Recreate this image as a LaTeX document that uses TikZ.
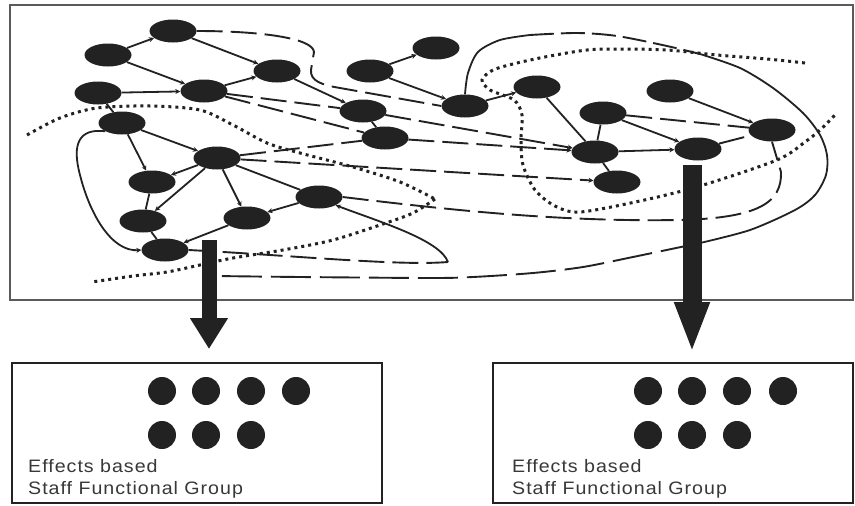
\documentclass[tikz,border=0pt]{standalone}
\usepackage{fontspec}
\newfontfamily\lblfont[FakeStretch=1.09,LetterSpace=5.5]{Liberation Sans}
\usetikzlibrary{shapes.geometric,arrows.meta}
\definecolor{ink}{RGB}{34,34,34}
\definecolor{frame}{RGB}{90,90,90}
\begin{document}
\begin{tikzpicture}[x=1pt,y=-1pt,
  ag/.style={ellipse, fill=ink, draw=none, minimum width=47pt, minimum height=23pt, inner sep=0pt},
  solidlink/.style={draw=ink, line width=1.8pt, -{Stealth[length=5pt,width=5pt]}},
  plainlink/.style={draw=ink, line width=1.8pt},
  dashlink/.style={draw=ink, line width=1.9pt, dash pattern=on 26pt off 8pt},
  dashtip/.style={dashlink, -{Stealth[length=5pt,width=5pt]}},
  dotline/.style={draw=ink, line width=3pt, dash pattern=on 3pt off 4pt},
  bigarrow/.style={draw=ink, line width=#1},
  toppanel/.style={draw=frame, line width=2.6pt, minimum width=843pt, minimum height=295pt, inner sep=0pt},
  sfgbox/.style={draw=ink, line width=1.8pt, minimum height=140pt, inner sep=0pt},
  member/.style={circle, fill=ink, minimum size=28pt, inner sep=0pt},
  lbl/.style={anchor=base west, text=ink!90, font=\lblfont\fontsize{18pt}{22pt}\selectfont, inner sep=0pt}
]
\useasboundingbox (0,0) rectangle (855,506);
\fill[white] (0,0) rectangle (855,506);

% panels
\node[toppanel] (top) at (431.5,152.5) {};
\node[sfgbox, minimum width=370pt] (bl) at (197,433) {};
\node[sfgbox, minimum width=360pt] (br) at (673,433) {};

% agents
\node[ag] (n1) at (173,31) {};
\node[ag] (n2) at (108,55) {};
\node[ag] (n3) at (277,71) {};
\node[ag] (n4) at (98,93) {};
\node[ag] (n5) at (204,91) {};
\node[ag] (n6) at (363,111) {};
\node[ag] (n7) at (122,123) {};
\node[ag] (n8) at (385,138) {};
\node[ag] (n9) at (370,71) {};
\node[ag] (n10) at (436,48) {};
\node[ag] (n11) at (465,106) {};
\node[ag] (n12) at (537,87) {};
\node[ag] (n13) at (670,91) {};
\node[ag] (n14) at (603,113) {};
\node[ag] (n15) at (772,130) {};
\node[ag] (n16) at (595,152) {};
\node[ag] (n17) at (698,149) {};
\node[ag] (n18) at (617,182) {};
\node[ag] (n19) at (217,158) {};
\node[ag] (n20) at (152,182) {};
\node[ag] (n21) at (319,197) {};
\node[ag] (n22) at (143,221) {};
\node[ag] (n23) at (247,218) {};
\node[ag] (n24) at (165,250) {};

% dotted boundaries
\draw[dotline] plot[smooth] coordinates {(27,135) (60,118) (97,108) (150,106) (200,110) (233,125) (267,143) (300,153) (353,167) (400,182) (435,199)};
\draw[dotline] plot[smooth] coordinates {(435,199) (413,213) (383,224) (333,240) (283,250) (233,258) (200,265) (167,272) (133,276) (92,282)};
\draw[dotline] plot[smooth] coordinates {(805,63) (767,59) (717,55) (667,50) (617,49) (587,50) (550,56) (517,63) (493,70) (482,80) (490,90) (514,100) (522,115) (521,140) (523,165) (535,190) (555,206) (580,212) (640,201) (700,186) (777,160) (805,142) (820,130) (835,115)};

% big boundary arc from n11
\coordinate (ae) at (215,276);
\draw[plainlink] plot[smooth] coordinates {(n11.north) (468,73) (478,52) (500,40) (530,35)};
\draw[dashlink, dash pattern=on 24pt off 7pt] plot[smooth] coordinates {(530,35) (577,33) (617,36) (667,46) (700,54)};
\draw[plainlink] plot[smooth] coordinates {(700,54) (740,68) (773,88) (803,113) (820,135) (827,155) (826,175) (815,195) (795,210) (750,230) (700,243)};
\draw[dashlink, dash pattern=on 40pt off 9pt] plot[smooth] coordinates {(700,243) (633,257) (583,267) (533,273) (473,277) (430,278) (300,277) (ae)};

% n1 route to n11
\draw[dashlink] (n1.east) .. controls (260,31) and (313,38) .. (314,52) -- (311,70) .. controls (310,81) and (322,85) .. (340,88) -- (n11.west);

% n21 route to n15
\draw[dashlink] (n21.east) .. controls (450,210) and (560,222) .. (680,220) .. controls (760,218) and (782,202) .. (781,172) -- (n15.south);

% n24 loop to n21
\coordinate (lp) at (448,262);
\draw[dashlink] (n24.east) .. controls (300,256) and (400,266) .. (lp);
\draw[solidlink] (lp) .. controls (440,240) and (380,222) .. (n21.south east);

% n7 loop to n24
\draw[solidlink] (n7.south west) .. controls (78,128) and (72,145) .. (80,175) .. controls (90,215) and (112,252) .. (n24.west);

% solid links
\draw[solidlink] (n2) -- (n1);
\draw[solidlink] (n1) -- (n3);
\draw[solidlink] (n2) -- (n5);
\draw[solidlink] (n4) -- (n5);
\draw[solidlink] (n5) -- (n3);
\draw[solidlink] (n3) -- (n6);
\draw[plainlink] (n6) -- (n8);
\draw[plainlink] (n4) -- (n7);
\draw[solidlink] (n9) -- (n10);
\draw[solidlink] (n9) -- (n11);
\draw[solidlink] (n7) -- (n19);
\draw[solidlink] (n7) -- (n20);
\draw[solidlink] (n19) -- (n20);
\draw[solidlink] (n19) -- (n22);
\draw[solidlink] (n19) -- (n23);
\draw[plainlink] (n19) -- (n21);
\draw[solidlink] (n21) -- (n23);
\draw[solidlink] (n23) -- (n24);
\draw[plainlink] (n20) -- (n22);
\draw[plainlink] (n22) -- (n24);
\draw[solidlink] (n11) -- (n12);
\draw[plainlink] (n12) -- (n16);
\draw[plainlink] (n14) -- (n16);
\draw[solidlink] (n14) -- (n17);
\draw[solidlink] (n13) -- (n15);
\draw[solidlink] (n16) -- (n17);
\draw[plainlink] (n16) -- (n18);

% dashed links
\draw[dashlink] (n5) -- (n6);
\draw[dashlink] (n5) -- (n8);
\draw[dashtip] (n6) -- (n16);
\draw[dashtip] (n8) -- (n16);
\draw[dashlink] (n19) -- (n8);
\draw[dashtip] (n19) -- (n18);
\draw[dashlink] (n14) -- (n15);
\draw[dashlink] (n17) -- (n15);

% big arrows to the staff groups
\coordinate (la1) at (209,240);
\coordinate (la2) at (209,349);
\coordinate (ra1) at (692,165);
\coordinate (ra2) at (692,353);
\draw[bigarrow=15pt, -{Triangle[length=31pt,width=36pt]}] (la1) -- (la2);
\draw[bigarrow=19pt, -{Triangle[length=51pt,width=32pt]}] (ra1) -- (ra2);

% staff groups
\foreach \i/\x/\y in {1/162/391, 2/206/391, 3/251/391, 4/296/391, 5/162/435, 6/206/435, 7/251/435}
  \node[member] (l\i) at (\x,\y) {};
\foreach \i/\x/\y in {1/648/391, 2/692/391, 3/737/391, 4/783/391, 5/648/435, 6/692/435, 7/737/435}
  \node[member] (r\i) at (\x,\y) {};
\node[lbl] (tl1) at (28,472) {Effects based};
\node[lbl] (tl2) at (28,494) {Staff Functional Group};
\node[lbl] (tr1) at (512,472) {Effects based};
\node[lbl] (tr2) at (512,494) {Staff Functional Group};
\end{tikzpicture}
\end{document}
